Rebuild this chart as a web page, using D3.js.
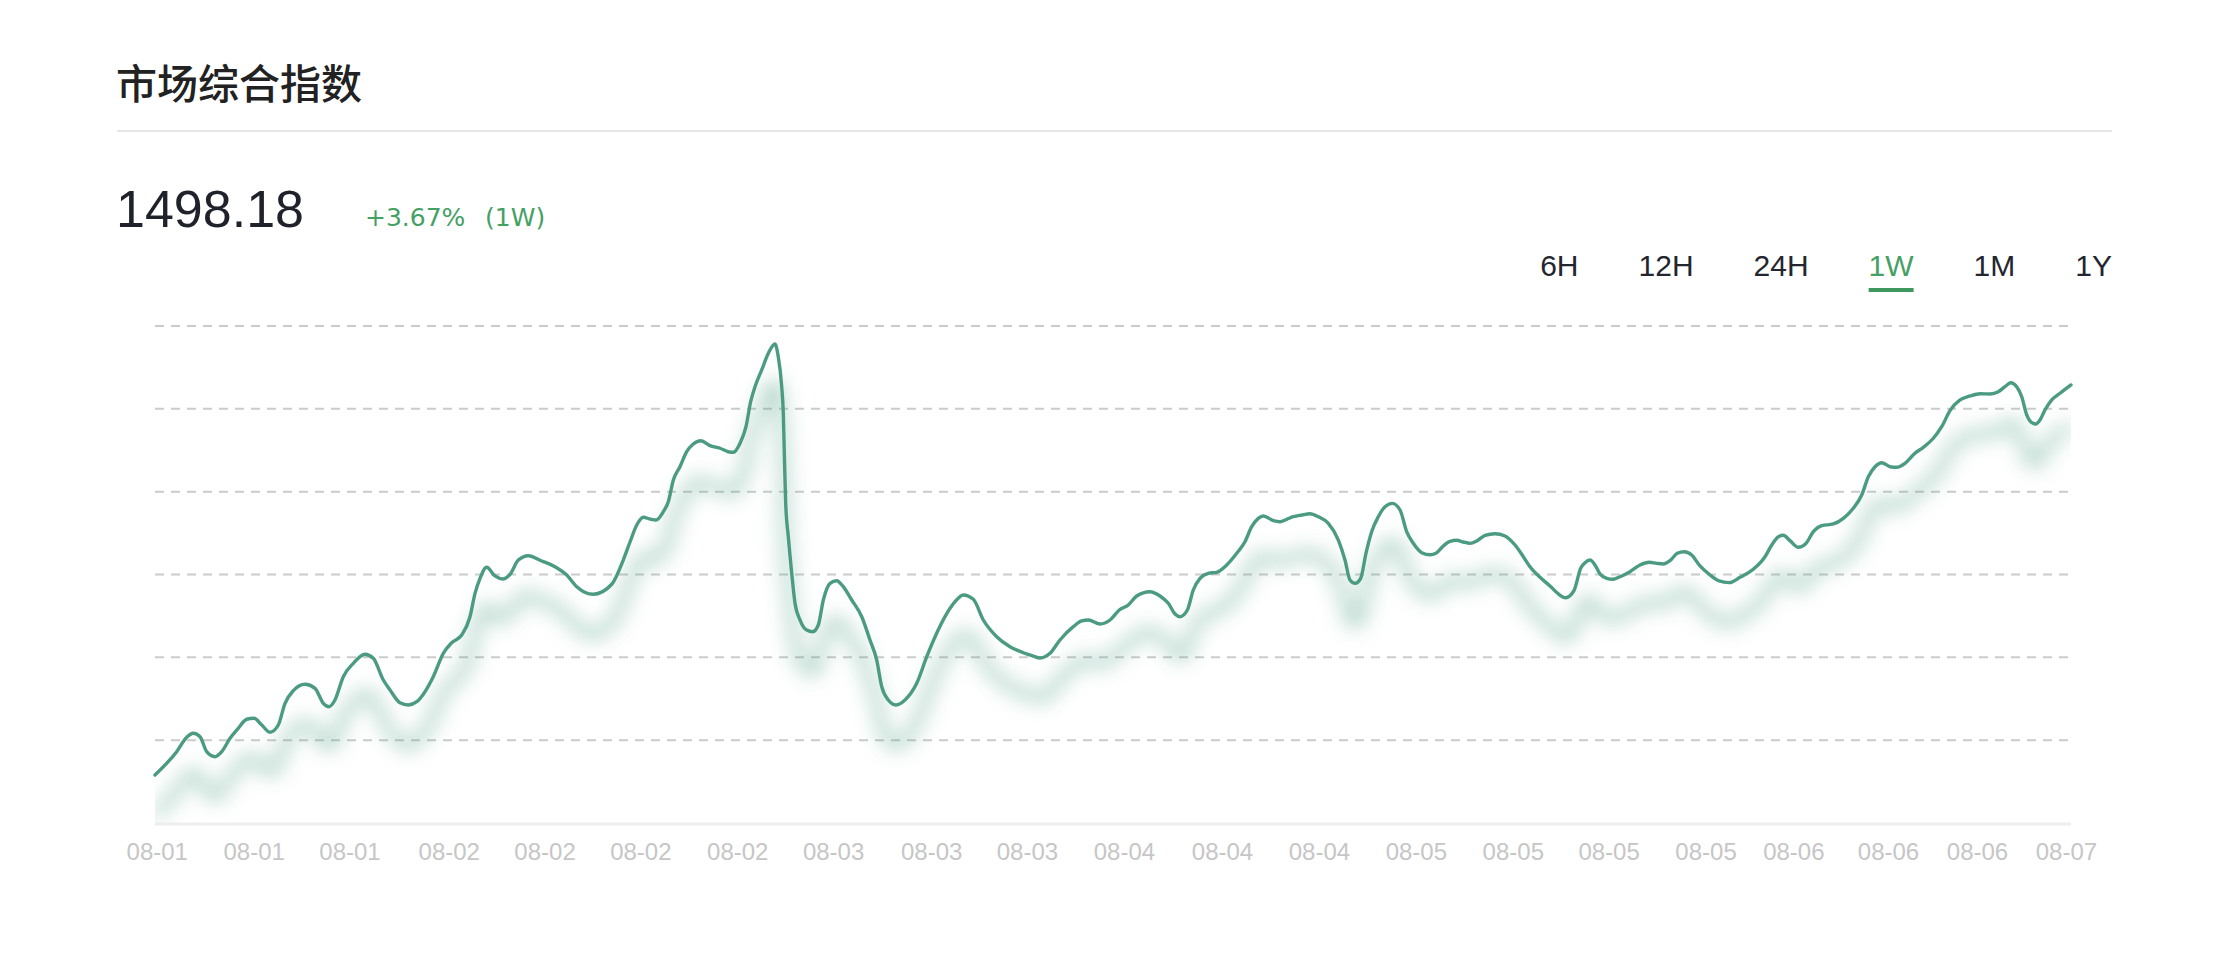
<!DOCTYPE html>
<html>
<head>
<meta charset="utf-8">
<script src="https://cdn.jsdelivr.net/npm/d3@7"></script>
<style>
html,body{margin:0;padding:0;background:#fff;}
svg{display:block;}
</style>
</head>
<body>
<svg id="chart" width="2230" height="980"></svg>
<script>
// ---------------- data ----------------
const titleText = "市场综合指数";
const lastValueText = "1498.18";
const changePct = "+3.67%";
const changePeriod = "(1W)";
const rangeLabels = ["6H", "12H", "24H", "1W", "1M", "1Y"];
const activeRange = "1W";

// hours since start of the 1W window
const hours = [
  0, 1.90, 2.78, 3.36, 3.95, 4.53, 5.26, 5.85, 6.58, 7.30,
  8.04, 8.68, 9.36, 10.08, 10.81, 11.40, 12.13, 13.15, 14.03, 14.76,
  15.26, 15.78, 16.51, 17.39, 18.41, 19.14, 20.02, 20.61, 21.48, 22.21,
  22.95, 24.40, 25.28, 26.02, 26.89, 27.62, 28.06, 28.50, 29.08, 29.81,
  30.49, 31.13, 31.86, 32.73, 33.91, 35.07, 36.10, 36.98, 38.43, 40.05,
  41.06, 41.65, 42.24, 42.82, 43.40, 43.93, 44.57, 45.01, 45.45, 46.03,
  46.62, 47.20, 47.85, 48.66, 49.54, 50.27, 50.71, 51.30, 51.82, 52.23,
  52.61, 53.20, 53.78, 54.36, 54.65, 54.95, 55.09, 55.18, 55.30, 55.53,
  55.83, 56.12, 56.56, 57.14, 57.67, 58.16, 58.60, 59.19, 59.77, 60.35,
  61.09, 61.97, 62.69, 63.28, 63.72, 64.30, 64.97, 65.76, 66.79, 67.67,
  68.54, 69.27, 70.15, 70.87, 71.75, 72.63, 73.80, 74.97, 76.14, 77.01,
  77.60, 78.48, 79.35, 80.52, 81.26, 81.84, 82.86, 83.74, 84.55, 85.34,
  86.08, 87.24, 88.12, 88.85, 89.44, 89.88, 90.52, 91.04, 91.63, 92.36,
  93.09, 93.97, 94.85, 95.57, 96.16, 96.74, 97.18, 98.06, 98.64, 99.23,
  99.81, 100.55, 101.27, 102.00, 102.88, 103.76, 104.34, 104.78, 105.22, 105.72,
  106.18, 106.68, 107.26, 107.85, 108.49, 109.17, 109.75, 110.33, 111.07, 111.80,
  112.32, 112.96, 113.55, 114.14, 114.72, 115.30, 115.89, 116.62, 117.50, 118.37,
  119.25, 119.98, 120.56, 121.44, 122.32, 123.05, 123.69, 124.42, 125.01, 125.39,
  125.83, 126.26, 126.70, 127.29, 127.82, 128.46, 129.33, 130.21, 131.02, 131.67,
  132.25, 132.84, 133.48, 134.09, 134.74, 135.47, 136.35, 137.08, 138.04, 138.98,
  140.14, 141.17, 141.76, 142.34, 142.78, 143.36, 144.09, 144.77, 145.41, 146.14,
  147.16, 148.04, 148.91, 149.65, 150.23, 150.82, 151.40, 152.13, 152.72, 153.45,
  154.32, 155.05, 155.93, 156.66, 157.39, 158.27, 159.15, 160.02, 160.90, 161.63,
  162.21, 162.71, 163.24, 163.68, 164.12, 164.56, 164.91, 165.28, 165.72, 166.31,
  167.04, 168
];

const indexValues = [
  1445.13, 1448.30, 1450.26, 1450.80, 1450.34, 1448.30, 1447.62, 1448.30, 1450.12, 1451.48,
  1452.71, 1452.84, 1451.93, 1450.94, 1451.93, 1454.88, 1456.60, 1457.47, 1456.92, 1454.88,
  1454.42, 1455.33, 1458.50, 1460.32, 1461.55, 1461.00, 1458.05, 1456.69, 1454.96, 1454.65,
  1455.10, 1458.50, 1461.68, 1463.12, 1464.17, 1466.66, 1469.84, 1471.88, 1473.38, 1472.20,
  1471.79, 1472.43, 1474.37, 1474.96, 1474.24, 1473.46, 1472.33, 1470.74, 1469.71, 1471.07,
  1474.37, 1476.82, 1479.13, 1480.18, 1479.95, 1479.81, 1480.94, 1482.30, 1485.25, 1487.06,
  1489.10, 1490.15, 1490.60, 1489.92, 1489.57, 1489.10, 1489.02, 1490.25, 1492.50, 1495.90,
  1497.94, 1500.22, 1502.49, 1503.75, 1502.02, 1497.94, 1494.33, 1488.89, 1482.08, 1477.54,
  1472.56, 1468.48, 1466.21, 1464.85, 1464.62, 1465.53, 1468.93, 1471.20, 1471.56, 1470.74,
  1468.93, 1466.66, 1463.49, 1460.77, 1457.14, 1455.33, 1454.65, 1455.33, 1457.60, 1461.22,
  1464.40, 1466.66, 1468.70, 1469.61, 1469.03, 1466.21, 1463.94, 1462.58, 1461.76, 1461.31,
  1461.04, 1461.68, 1463.49, 1465.30, 1466.08, 1466.21, 1465.67, 1466.21, 1467.57, 1468.25,
  1469.48, 1470.06, 1469.48, 1468.48, 1467.03, 1466.66, 1467.57, 1470.29, 1471.88, 1472.56,
  1472.70, 1473.69, 1475.28, 1476.86, 1478.90, 1480.04, 1480.36, 1479.72, 1479.58, 1479.91,
  1480.26, 1480.49, 1480.67, 1480.26, 1479.36, 1477.09, 1474.37, 1471.65, 1471.20, 1471.88,
  1475.28, 1478.22, 1480.26, 1481.62, 1482.08, 1481.17, 1478.22, 1476.64, 1475.37, 1475.09,
  1475.28, 1476.28, 1476.92, 1477.05, 1476.82, 1476.64, 1476.96, 1477.73, 1477.95, 1477.64,
  1476.41, 1474.82, 1473.46, 1472.02, 1470.84, 1469.75, 1469.24, 1470.20, 1473.24, 1474.00,
  1474.37, 1473.69, 1472.47, 1471.88, 1471.75, 1472.10, 1472.78, 1473.69, 1474.06, 1473.92,
  1473.83, 1474.28, 1475.28, 1475.50, 1475.05, 1473.56, 1472.33, 1471.56, 1471.29, 1472.02,
  1473.11, 1474.82, 1476.41, 1477.54, 1477.73, 1477.00, 1476.10, 1476.64, 1478.22, 1479.04,
  1479.27, 1480.04, 1481.40, 1483.21, 1485.70, 1487.06, 1487.61, 1487.06, 1486.98, 1487.53,
  1488.89, 1489.70, 1490.93, 1492.50, 1494.68, 1496.14, 1496.68, 1496.99, 1496.95, 1497.26,
  1497.94, 1498.49, 1497.94, 1496.58, 1494.10, 1493.05, 1492.87, 1493.41, 1494.77, 1496.14,
  1497.05, 1498.18
];

const tickLabels = [
  "08-01", "08-01", "08-01", "08-02", "08-02", "08-02", "08-02",
  "08-03", "08-03", "08-03", "08-04", "08-04", "08-04",
  "08-05", "08-05", "08-05", "08-05", "08-06", "08-06", "08-06", "08-07"
];
const tickHours = [
  0.2, 8.7, 17.1, 25.8, 34.2, 42.6, 51.1,
  59.5, 68.1, 76.5, 85.0, 93.6, 102.1,
  110.6, 119.1, 127.5, 136.0, 143.7, 152.0, 159.8, 167.6
];

const hourDomain = [0, 168];
const valueDomain = [1438.6, 1506.2];
const gridValues = [1449.87, 1461.13, 1472.40, 1483.67, 1494.93, 1506.20];

// ---------------- layout ----------------
const W = 2230, H = 980;
const plot = { left: 155, right: 2071, top: 326, bottom: 823 };
const LINE = "#4b9b82";
const GREEN = "#45a064";
const LATIN = "'Liberation Sans', Arial, 'Noto Sans CJK SC', sans-serif";
const WIDE = "'DejaVu Sans', 'Liberation Sans', sans-serif";

const svg = d3.select("#chart");

const x = d3.scaleLinear().domain(hourDomain).range([plot.left, plot.right]);
const y = d3.scaleLinear().domain(valueDomain).range([plot.bottom, plot.top]);

const data = hours.map((h, i) => ({ h, v: indexValues[i] }));

// ---------- header ----------
svg.append("text")
  .attr("x", 116).attr("y", 99)
  .attr("font-family", "'Noto Sans CJK SC', sans-serif")
  .attr("font-size", 41).attr("font-weight", 500)
  .attr("fill", "#222")
  .text(titleText);

svg.append("line")
  .attr("x1", 117).attr("x2", 2112)
  .attr("y1", 131).attr("y2", 131)
  .attr("stroke", "#e6e6e6").attr("stroke-width", 2);

svg.append("text")
  .attr("x", 116).attr("y", 227)
  .attr("font-family", LATIN)
  .attr("font-size", 52)
  .attr("fill", "#1f222b")
  .text(lastValueText);

const changeT = svg.append("text")
  .attr("y", 226)
  .attr("font-family", WIDE)
  .attr("font-size", 25)
  .attr("fill", GREEN);
changeT.append("tspan").attr("x", 365).text(changePct);
changeT.append("tspan").attr("x", 485).text(changePeriod);

// range selector, right aligned
const rangeG = svg.append("g");
const rangeTexts = rangeG.selectAll("text").data(rangeLabels).join("text")
  .attr("y", 276)
  .attr("font-family", LATIN)
  .attr("font-size", 30)
  .attr("fill", d => d === activeRange ? GREEN : "#23262f")
  .text(d => d);
{
  let right = 2112;
  const gap = 60;
  const nodes = rangeTexts.nodes();
  for (let i = nodes.length - 1; i >= 0; i--) {
    const w = nodes[i].getComputedTextLength();
    const x0 = right - w;
    d3.select(nodes[i]).attr("x", x0);
    if (rangeLabels[i] === activeRange) {
      rangeG.append("rect")
        .attr("x", x0).attr("y", 288)
        .attr("width", w).attr("height", 4)
        .attr("fill", "#3f995e");
    }
    right = x0 - gap;
  }
}

// ---------- grid ----------
svg.append("g").selectAll("line").data(gridValues).join("line")
  .attr("x1", x(hourDomain[0])).attr("x2", x(hourDomain[1]))
  .attr("y1", d => y(d)).attr("y2", d => y(d))
  .attr("stroke", "#cbcbcb").attr("stroke-width", 2)
  .attr("stroke-dasharray", "9,7");

svg.append("line")
  .attr("x1", x(hourDomain[0])).attr("x2", x(hourDomain[1]))
  .attr("y1", y(valueDomain[0]) + 1).attr("y2", y(valueDomain[0]) + 1)
  .attr("stroke", "#eeeeee").attr("stroke-width", 3);

// ---------- x axis labels ----------
svg.append("g").selectAll("text").data(tickHours).join("text")
  .attr("x", d => x(d))
  .attr("y", 860)
  .attr("text-anchor", "middle")
  .attr("font-family", LATIN)
  .attr("font-size", 24)
  .attr("fill", "#c6c6c6")
  .text((d, i) => tickLabels[i]);

// ---------- line + shadow ----------
const defs = svg.append("defs");
defs.append("filter")
  .attr("id", "blurShadow")
  .attr("filterUnits", "userSpaceOnUse")
  .attr("x", 0).attr("y", 0).attr("width", W).attr("height", H)
  .append("feGaussianBlur").attr("stdDeviation", 10);
defs.append("clipPath").attr("id", "plotClip")
  .append("rect")
  .attr("x", plot.left).attr("y", 0)
  .attr("width", plot.right - plot.left)
  .attr("height", plot.bottom);

const lineGen = d3.line()
  .x(d => x(d.h))
  .y(d => y(d.v))
  .curve(d3.curveMonotoneX);

svg.append("g").attr("clip-path", "url(#plotClip)")
  .append("path")
  .datum(data)
  .attr("d", lineGen)
  .attr("transform", "translate(0,40)")
  .attr("fill", "none")
  .attr("stroke", LINE)
  .attr("stroke-width", 4.5)
  .attr("filter", "url(#blurShadow)");

svg.append("path")
  .datum(data)
  .attr("d", lineGen)
  .attr("fill", "none")
  .attr("stroke", LINE)
  .attr("stroke-width", 3.4)
  .attr("stroke-linejoin", "round")
  .attr("stroke-linecap", "round");
</script>
</body>
</html>
